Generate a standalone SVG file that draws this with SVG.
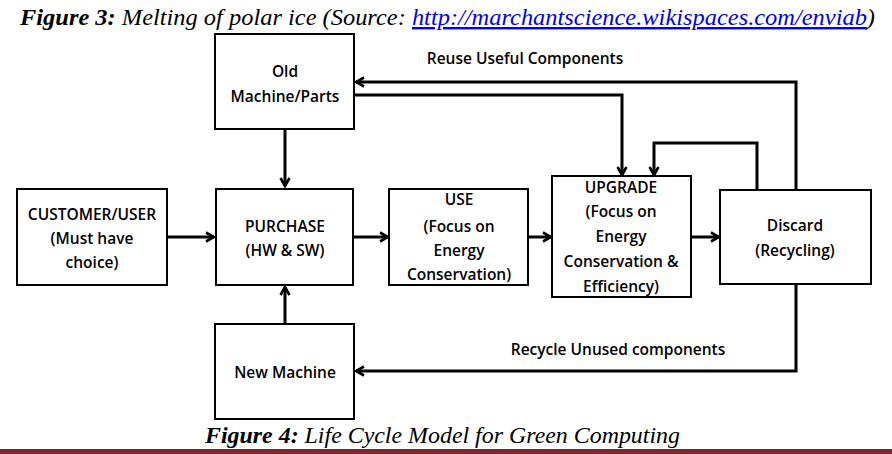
<svg xmlns="http://www.w3.org/2000/svg" width="892" height="454" viewBox="0 0 892 454">
<style>
.box{fill:#fff;stroke:#000;stroke-width:2}
.t{font-family:"Open Sans","Liberation Sans",sans-serif;font-size:15.5px;font-weight:600;text-anchor:middle;fill:#000}
.lbl{font-family:"Open Sans","Liberation Sans",sans-serif;font-size:15.5px;font-weight:600;text-anchor:middle;fill:#000}
.c{fill:none;stroke:#000;stroke-width:3}
.cap{font-family:"Liberation Serif","Times New Roman",serif;font-size:24px;font-style:italic;fill:#000}
</style>
<defs>
<marker id="ah" viewBox="0 0 12 12" refX="10" refY="6" markerWidth="12" markerHeight="12" markerUnits="userSpaceOnUse" orient="auto">
<path d="M2,1.5 L10,6 L2,10.5" fill="none" stroke="#000" stroke-width="2.6"/>
</marker>
</defs>
<rect width="892" height="454" fill="#fff"/>
<text class="cap" x="20" y="25" textLength="855" lengthAdjust="spacingAndGlyphs"><tspan font-weight="bold">Figure 3:</tspan> Melting of polar ice (Source: <tspan fill="#0000ee" text-decoration="underline">http://marchantscience.wikispaces.com/enviab</tspan>)</text>

<g id="connectors">
<path class="c" d="M285,129 V186" marker-end="url(#ah)"/>
<path class="c" d="M285,324 V287" marker-end="url(#ah)"/>
<path class="c" d="M167,237 H214" marker-end="url(#ah)"/>
<path class="c" d="M353,237 H388" marker-end="url(#ah)"/>
<path class="c" d="M528,237 H551" marker-end="url(#ah)"/>
<path class="c" d="M691,237 H719" marker-end="url(#ah)"/>
<path class="c" d="M354,95 H622 V175" marker-end="url(#ah)"/>
<path class="c" d="M757,190 V143 H654 V175" marker-end="url(#ah)"/>
<path class="c" d="M796,190 V82 H356" marker-end="url(#ah)"/>
<path class="c" d="M796,284 V371 H356" marker-end="url(#ah)"/>
<text class="lbl" x="525" y="64">Reuse Useful Components</text>
<text class="lbl" x="618" y="355">Recycle Unused components</text>
</g>

<g id="old">
<rect class="box" x="215" y="34" width="139" height="95"/>
<text class="t" x="285" y="77">Old</text>
<text class="t" x="285" y="102">Machine/Parts</text>
</g>
<g id="customer">
<rect class="box" x="17" y="189" width="150" height="96"/>
<text class="t" x="92" y="220">CUSTOMER/USER</text>
<text class="t" x="92" y="244">(Must have</text>
<text class="t" x="92" y="268">choice)</text>
</g>
<g id="purchase">
<rect class="box" x="216" y="189" width="137" height="96"/>
<text class="t" x="285" y="232">PURCHASE</text>
<text class="t" x="285" y="256">(HW &amp; SW)</text>
</g>
<g id="use">
<rect class="box" x="389" y="189" width="139" height="96"/>
<text class="t" x="459" y="205">USE</text>
<text class="t" x="459" y="232">(Focus on</text>
<text class="t" x="459" y="256">Energy</text>
<text class="t" x="459" y="280">Conservation)</text>
</g>
<g id="upgrade">
<rect class="box" x="552" y="176" width="139" height="121"/>
<text class="t" x="621" y="193">UPGRADE</text>
<text class="t" x="621" y="217">(Focus on</text>
<text class="t" x="621" y="242">Energy</text>
<text class="t" x="621" y="267">Conservation &amp;</text>
<text class="t" x="621" y="292">Efficiency)</text>
</g>
<g id="discard">
<rect class="box" x="720" y="190" width="151" height="94"/>
<text class="t" x="795" y="231">Discard</text>
<text class="t" x="795" y="256">(Recycling)</text>
</g>
<g id="new">
<rect class="box" x="215" y="324" width="139" height="95"/>
<text class="t" x="285" y="378">New Machine</text>
</g>

<text class="cap" x="205" y="443" textLength="475" lengthAdjust="spacingAndGlyphs"><tspan font-weight="bold">Figure 4:</tspan> Life Cycle Model for Green Computing</text>
<rect x="0" y="449" width="892" height="5" fill="#772a2a"/>
</svg>
